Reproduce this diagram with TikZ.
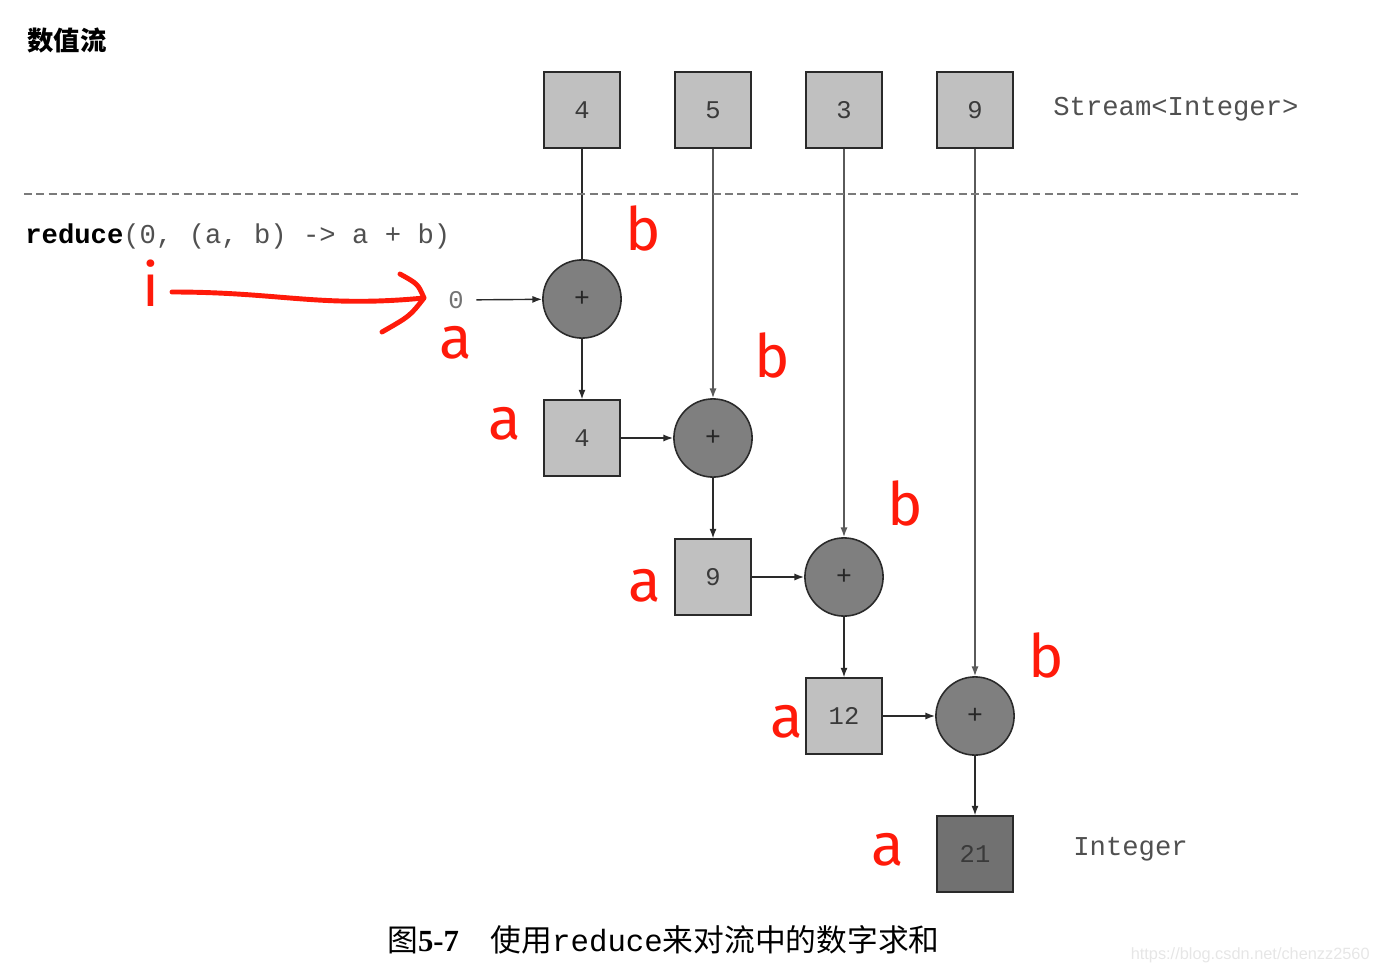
\documentclass[tikz,border=0pt]{standalone}
\usepackage{fontspec}
\setmonofont{Liberation Mono}
\newfontfamily\cjk{Noto Sans CJK SC}
\newfontfamily\serifnum{Liberation Serif}
\newfontfamily\hand{Fira Sans}
\newfontfamily\wmfont{Liberation Sans}
\usetikzlibrary{arrows.meta}
\definecolor{boxfill}{HTML}{C0C0C0}
\definecolor{circfill}{HTML}{7F7F7F}
\definecolor{darkfill}{HTML}{717171}
\definecolor{edgecol}{HTML}{2A2A2A}
\definecolor{txtgray}{HTML}{3A3A3A}
\definecolor{codegray}{HTML}{505050}
\definecolor{vgray}{HTML}{5A5A5A}
\definecolor{dashgray}{HTML}{7A7A7A}
\definecolor{annred}{HTML}{FF1A0A}
\definecolor{wmgray}{HTML}{E6E6E6}
\tikzset{
  sqbox/.style={draw=edgecol, line width=0.9pt, fill=boxfill, minimum size=43pt, inner sep=0pt,
    font=\ttfamily\fontsize{14.5}{14.5}\selectfont, text=txtgray},
  darkbox/.style={sqbox, fill=darkfill},
  plusc/.style={circle, draw=edgecol, line width=0.9pt, fill=circfill, minimum size=44.5pt, inner sep=0pt,
    font=\ttfamily\fontsize{15}{15}\selectfont, text=black!85},
  conn/.style={draw=edgecol, line width=0.8pt},
  arr/.style={conn, -{Latex[length=5.5pt,width=4pt]}},
  varr/.style={draw=vgray, line width=0.8pt, -{Latex[length=5.5pt,width=4pt]}},
  monotxt/.style={font=\ttfamily\fontsize{15.5}{15.5}\selectfont, text=codegray, inner sep=0pt},
  ann/.style={font=\hand\fontsize{34}{34}\selectfont, text=annred, inner sep=0pt},
  annline/.style={draw=annred, line width=2.8pt, line cap=round, line join=round}
}
\begin{document}
\begin{tikzpicture}[x=0.02cm,y=-0.02cm]
\useasboundingbox (0,0) rectangle (1379,973);
% title
\node[anchor=west, inner sep=0pt, font=\cjk\bfseries\fontsize{15}{15}\selectfont] (title) at (27,41) {数值流};
% top stream boxes
\node[sqbox] (t4) at (582,110) {4};
\node[sqbox] (t5) at (713,110) {5};
\node[sqbox] (t3) at (844,110) {3};
\node[sqbox] (t9) at (975,110) {9};
\node[monotxt, anchor=west] (stream) at (1053,109) {Stream<Integer>};
% code line
\node[monotxt, anchor=west] (code) at (25,236) {\textcolor{black}{\bfseries reduce}(0, (a, b) -> a + b)};
% circles
\node[plusc] (c1) at (582,299) {+};
\node[plusc] (c2) at (713,438) {+};
\node[plusc] (c3) at (844,577) {+};
\node[plusc] (c4) at (975,716) {+};
% intermediate boxes
\node[sqbox] (b4) at (582,438) {4};
\node[sqbox] (b9) at (713,577) {9};
\node[sqbox] (b12) at (844,716) {12};
\node[darkbox] (b21) at (975,854) {21};
\node[monotxt, anchor=west] (integer) at (1073,849) {Integer};
% initial value
\node[font=\ttfamily\fontsize{14.5}{14.5}\selectfont, text=black!55, inner sep=1pt] (z) at (456,300) {0};
% connectors
\draw[conn] (t4) -- (c1);
\draw[varr] (t5) -- (c2);
\draw[varr] (t3) -- (c3);
\draw[varr] (t9) -- (c4);
\draw[arr, shorten <=6pt] (z) -- (c1);
\draw[arr] (c1) -- (b4);
\draw[arr] (b4) -- (c2);
\draw[arr] (c2) -- (b9);
\draw[arr] (b9) -- (c3);
\draw[arr] (c3) -- (b12);
\draw[arr] (b12) -- (c4);
\draw[arr] (c4) -- (b21);
% dashed separator
\coordinate (d1) at (24,194);
\coordinate (d2) at (1298,194);
\draw[draw=dashgray, line width=1.1pt, dash pattern=on 4.5pt off 2.5pt] (d1) -- (d2);
% caption
\node[anchor=west, inner sep=0pt, font=\fontsize{17.5}{17.5}\selectfont] (cap) at (387,940)
  {{\cjk 图}{\serifnum\bfseries 5-7}\hspace{18pt}{\cjk 使用}{\ttfamily reduce}{\cjk 来对流中的数字求和}};
% watermark
\node[anchor=east, inner sep=0pt, font=\wmfont\fontsize{9.3}{9.3}\selectfont, text=wmgray] (wm) at (1370,955) {https://blog.csdn.net/chenzz2560};
% handwritten annotations
\node[ann] (hi) at (151,283) {i};
\node[ann] (hb1) at (643,228) {b};
\node[ann] (hb2) at (772,355) {b};
\node[ann] (hb3) at (905,503) {b};
\node[ann] (hb4) at (1046,655) {b};
\node[ann] (ha0) at (456,343) {a};
\node[ann] (ha1) at (505,424) {a};
\node[ann] (ha2) at (645,586) {a};
\node[ann] (ha3) at (787,722) {a};
\node[ann] (ha4) at (888,850) {a};
\coordinate (istart) at (172,292);
\coordinate (iend) at (424,298);
\draw[annline] (istart) .. controls (280,292) and (320,308) .. (iend);
\draw[annline] (400,274) .. controls (418,284) .. (iend) .. controls (410,316) .. (382,332);
\end{tikzpicture}
\end{document}
